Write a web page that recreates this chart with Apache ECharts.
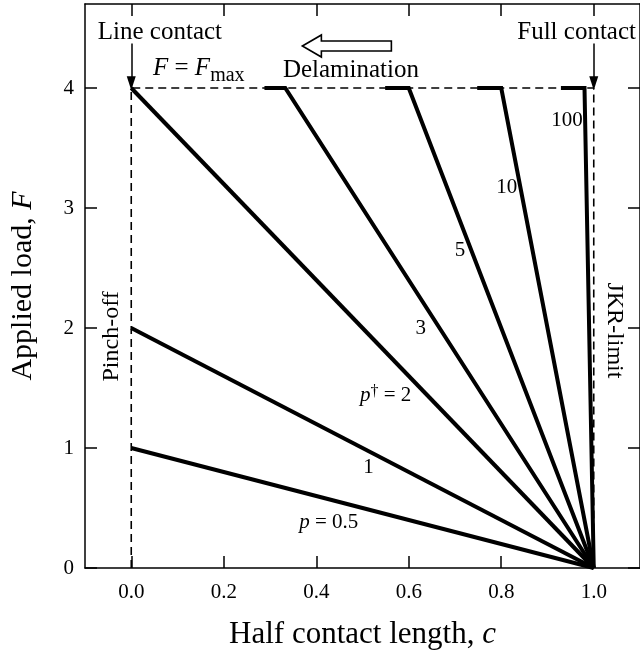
<!DOCTYPE html>
<html>
<head>
<meta charset="utf-8">
<script src="https://cdn.jsdelivr.net/npm/echarts@6/dist/echarts.min.js"></script>
<style>
  html, body { margin: 0; padding: 0; background: #fff; }
  #chart { width: 640px; height: 655px; }
</style>
</head>
<body>
<div id="chart"></div>
<script>
// Load lines F(c) for each peel parameter p, capped at F = Fmax.
const pLabels   = ['{i|p} = 0.5', '1', '{i|p}{s|†} = 2', '3', '5', '10', '100'];
const startC    = [0,    0,    0,    0.288, 0.549, 0.748, 0.929]; // left end of the capped plateau
const capC      = [0,    0,    0,    0.333, 0.600, 0.800, 0.980]; // where the line meets F = Fmax
const startF    = [1,    2,    4,    4,     4,     4,     4];
const endC      = [1,    1,    1,    1,     1,     1,     1];
const endF      = [0,    0,    0,    0,     0,     0,     0];

// Limits: pinch-off (c = 0), JKR limit (c = 1) and F = Fmax
const limitC = [0, 0, 1, 1];
const limitF = [0, 4, 4, 0];

const xTicks = [0, 0.2, 0.4, 0.6, 0.8, 1.0];
const yTicks = [0, 1, 2, 3, 4];

const FONT = "'Liberation Serif', 'Times New Roman', serif";

// where each curve label sits, in data coordinates
const labelAt = [
  [0.427, 0.38], [0.513, 0.84], [0.55, 1.44], [0.626, 2.0],
  [0.711, 2.65], [0.812, 3.17], [0.942, 3.73]
];

const chart = echarts.init(document.getElementById('chart'), null, { renderer: 'canvas' });

const lineSeries = pLabels.map((lab, i) => ({
  type: 'line',
  xAxisIndex: 0, yAxisIndex: 0,
  symbol: 'none',
  silent: true,
  z: 3,
  lineStyle: { color: '#000', width: 4, cap: 'butt', join: 'miter' },
  data: [[startC[i], startF[i]], [capC[i], startF[i]], [endC[i], endF[i]]]
}));

function textPoint(x, y, text, size, rotate) {
  return {
    value: [x, y],
    label: {
      show: true, position: 'inside', formatter: text, rotate: rotate || 0,
      fontFamily: FONT, fontSize: size, color: '#000',
      rich: {
        i: { fontFamily: FONT, fontStyle: 'italic', fontSize: size, color: '#000' },
        s: { fontFamily: FONT, fontSize: 16, color: '#000', padding: [0, 0, 6, 0] },
        sub: { fontFamily: FONT, fontSize: size - 5, color: '#000', padding: [14, 0, 0, 0] }
      }
    }
  };
}

const labelData = pLabels.map((lab, i) => textPoint(labelAt[i][0], labelAt[i][1], lab, 21));
labelData.push(textPoint(0.062, 4.46, 'Line contact', 25));
labelData.push(textPoint(0.963, 4.46, 'Full contact', 25));
labelData.push(textPoint(0.475, 4.15, 'Delamination', 25));
labelData.push(textPoint(0.146, 4.16, '{i|F} = {i|F}{sub|max}', 25));
labelData.push(textPoint(-0.043, 1.93, 'Pinch-off', 24, 90));
labelData.push(textPoint(1.044, 1.98, 'JKR-limit', 24, -90));

const tickStyle = { show: true, inside: true, length: 12, lineStyle: { color: '#000', width: 1.5 } };
const axisLineStyle = { show: true, onZero: false, lineStyle: { color: '#000', width: 1.5 } };

const option = {
  animation: false,
  backgroundColor: '#fff',
  grid: { left: 83, top: 4, width: 562, height: 564, containLabel: false },
  xAxis: [
    {
      type: 'value', position: 'bottom', min: -0.1, max: 1.1,
      axisLine: axisLineStyle,
      axisTick: Object.assign({ customValues: xTicks }, tickStyle),
      axisLabel: {
        customValues: xTicks, margin: 14,
        fontFamily: FONT, fontSize: 21, color: '#000',
        formatter: v => v.toFixed(1)
      },
      splitLine: { show: false },
      name: 'Half contact length, {i|c}', nameLocation: 'middle', nameGap: 51,
      nameTextStyle: {
        fontFamily: FONT, fontSize: 31, color: '#000',
        rich: { i: { fontFamily: FONT, fontStyle: 'italic', fontSize: 31, color: '#000' } }
      }
    },
    {
      type: 'value', position: 'top', min: -0.1, max: 1.1,
      axisLine: axisLineStyle,
      axisTick: Object.assign({ customValues: xTicks }, tickStyle),
      axisLabel: { show: false },
      splitLine: { show: false }
    }
  ],
  yAxis: [
    {
      type: 'value', position: 'left', min: 0, max: 4.7,
      axisLine: axisLineStyle,
      axisTick: Object.assign({ customValues: yTicks }, tickStyle),
      axisLabel: {
        customValues: yTicks, margin: 11,
        fontFamily: FONT, fontSize: 21, color: '#000'
      },
      splitLine: { show: false },
      name: 'Applied load, {i|F}', nameLocation: 'middle', nameGap: 47, nameRotate: 90,
      nameTextStyle: {
        fontFamily: FONT, fontSize: 30, color: '#000',
        rich: { i: { fontFamily: FONT, fontStyle: 'italic', fontSize: 30, color: '#000' } }
      }
    },
    {
      type: 'value', position: 'right', min: 0, max: 4.7,
      axisLine: axisLineStyle,
      axisTick: Object.assign({ customValues: yTicks }, tickStyle),
      axisLabel: { show: false },
      splitLine: { show: false }
    }
  ],
  series: [
    {
      type: 'line',
      xAxisIndex: 0, yAxisIndex: 0,
      symbol: 'none', silent: true, z: 2,
      lineStyle: { color: '#000', width: 1.6, type: [8, 5] },
      data: limitC.map((c, i) => [c, limitF[i]]),
      markLine: {
        silent: true,
        symbol: ['none', 'triangle'],
        symbolSize: [9, 14],
        label: { show: false },
        lineStyle: { color: '#000', width: 1.5, type: 'solid' },
        data: [
          [{ coord: [0, 4.37] }, { coord: [0, 4.04] }],
          [{ coord: [1, 4.37] }, { coord: [1, 4.04] }]
        ]
      }
    },
    ...lineSeries,
    {
      type: 'scatter',
      xAxisIndex: 0, yAxisIndex: 0,
      symbolSize: 0, silent: true, z: 5,
      itemStyle: { opacity: 1 },
      data: labelData
    }
  ]
};

chart.setOption(option);

// Hollow arrow pointing left, above "Delamination"
const tip = chart.convertToPixel({ xAxisIndex: 0, yAxisIndex: 0 }, [0.37, 4.35]);
const tx = tip[0], ty = tip[1];
chart.setOption({
  graphic: [{
    type: 'polygon',
    silent: true,
    shape: {
      points: [
        [tx, ty], [tx + 19, ty - 11], [tx + 19, ty - 5], [tx + 89, ty - 5],
        [tx + 89, ty + 5], [tx + 19, ty + 5], [tx + 19, ty + 11]
      ]
    },
    style: { fill: '#fff', stroke: '#000', lineWidth: 1.6 }
  }]
});
</script>
</body>
</html>
